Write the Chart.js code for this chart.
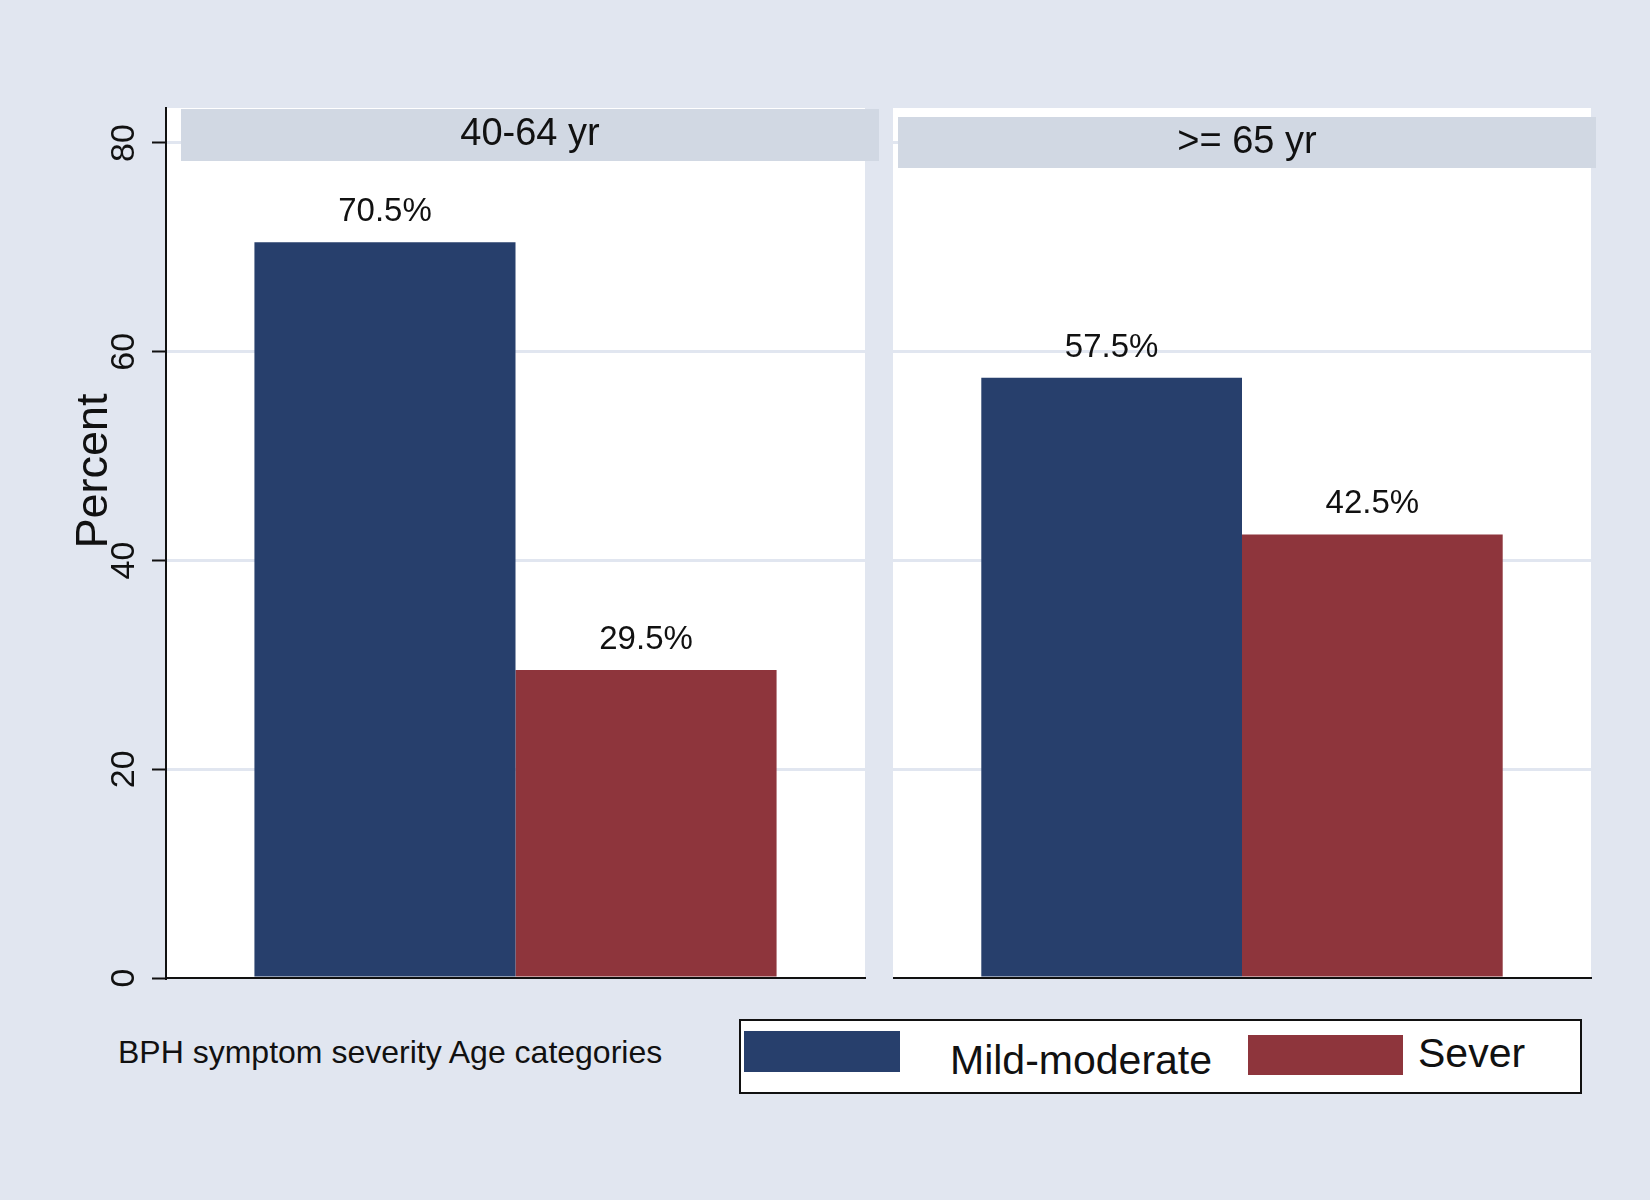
<!DOCTYPE html>
<html>
<head>
<meta charset="utf-8">
<script src="https://cdn.jsdelivr.net/npm/chart.js@4.4.1/dist/chart.umd.min.js"></script>
<style>
  html, body { margin: 0; padding: 0; }
  body { width: 1650px; height: 1200px; background: #e1e6f0; position: relative; overflow: hidden;
         font-family: "Liberation Sans", Arial, sans-serif; }
  canvas { position: absolute; top: 0; }
  #leftChart { left: 0; }
  #rightChart { left: 893px; }
  #xnote { position: absolute; left: 118px; top: 1034px; font-size: 32px; color: #111; white-space: nowrap; }
  #legend { position: absolute; left: 739px; top: 1019px; width: 839px; height: 71px; background: #fff;
            border: 2px solid #111; }
  .sw { position: absolute; }
  .lt { position: absolute; font-size: 41px; color: #111; white-space: nowrap; }
</style>
</head>
<body>
<canvas id="leftChart" width="885" height="1000"></canvas>
<canvas id="rightChart" width="757" height="1000"></canvas>
<div id="xnote">BPH symptom severity Age categories</div>
<div id="legend"></div>
<script>
// data
const groups = ['40-64 yr', '>= 65 yr'];
const seriesNames = ['Mild-moderate', 'Sever'];
const mildModerate = [70.5, 57.5];
const sever = [29.5, 42.5];
const tickValues = [0, 20, 40, 60, 80];

const blue = '#273f6c';
const red = '#8e353c';
const gridColor = '#e1e6f0';
const stripColor = '#d1d8e3';
const FONT = '"Liberation Sans", Arial, sans-serif';

// panel look: white plot area, facet strip, bar labels, rotated y labels
const panelPlugin = {
  id: 'panel',
  beforeDraw(chart) {
    const a = chart.chartArea, ctx = chart.ctx;
    ctx.save();
    ctx.fillStyle = '#fff';
    ctx.fillRect(a.left, a.top, a.right - a.left, a.bottom - a.top);
    ctx.restore();
  },
  afterDraw(chart, args, opts) {
    const a = chart.chartArea, ctx = chart.ctx;
    ctx.save();
    // strip
    const s = opts.strip;
    ctx.fillStyle = stripColor;
    ctx.fillRect(a.left + s.dx, s.top, a.right - a.left - s.dx + s.extra, s.height);
    ctx.fillStyle = '#111';
    ctx.font = '38px ' + FONT;
    ctx.textAlign = 'center';
    ctx.textBaseline = 'middle';
    ctx.fillText(opts.title, (a.left + s.dx + a.right + s.extra) / 2, s.top + s.height / 2);

    // value labels
    ctx.font = '33px ' + FONT;
    ctx.textBaseline = 'middle';
    chart.data.datasets.forEach((ds, i) => {
      chart.getDatasetMeta(i).data.forEach((bar, j) => {
        ctx.fillText(ds.data[j].toFixed(1) + '%', bar.x, bar.y - 30);
      });
    });

    // y tick labels + title (rotated)
    if (opts.showY) {
      const y = chart.scales.y;
      ctx.font = '34px ' + FONT;
      ctx.textAlign = 'center';
      y.ticks.forEach(t => {
        ctx.save();
        ctx.translate(125, y.getPixelForValue(t.value));
        ctx.rotate(-Math.PI / 2);
        ctx.fillText(String(t.value), 0, 0);
        ctx.restore();
      });
      ctx.save();
      ctx.font = '45px ' + FONT;
      ctx.translate(95, 471);
      ctx.rotate(-Math.PI / 2);
      ctx.fillText('Percent', 0, 0);
      ctx.restore();
    }
    ctx.restore();
  }
};

function makePanel(id, g, showY, strip, padRight) {
  return new Chart(document.getElementById(id), {
    type: 'bar',
    data: {
      labels: [groups[g]],
      datasets: [
        { label: seriesNames[0], data: [mildModerate[g]], backgroundColor: blue },
        { label: seriesNames[1], data: [sever[g]], backgroundColor: red }
      ]
    },
    options: {
      responsive: false,
      animation: false,
      devicePixelRatio: 1,
      layout: { padding: { top: 108, bottom: 22, left: 0, right: padRight } },
      datasets: { bar: { categoryPercentage: 0.747, barPercentage: 1.0 } },
      scales: {
        x: {
          ticks: { display: false },
          grid: { display: false },
          border: { display: true, color: '#111', width: 2 },
          afterFit(scale) { scale.height = 0; }
        },
        y: {
          min: 0,
          max: 83.35,
          afterBuildTicks(scale) { scale.ticks = tickValues.map(v => ({ value: v })); },
          ticks: { display: false },
          grid: {
            color: gridColor,
            lineWidth: 3,
            drawTicks: showY,
            tickLength: 14,
            tickColor: '#111',
            tickWidth: 2
          },
          border: { display: showY, color: '#111', width: 2 },
          afterFit(scale) { scale.width = showY ? 166 : 0; }
        }
      },
      plugins: {
        legend: { display: false },
        tooltip: { enabled: false },
        panel: { title: groups[g], showY: showY, strip: strip }
      }
    },
    plugins: [panelPlugin]
  });
}

makePanel('leftChart', 0, true, { dx: 15, extra: 14, top: 109, height: 52 }, 20);
makePanel('rightChart', 1, false, { dx: 5, extra: 5, top: 117, height: 51 }, 59);

// legend
const legend = document.getElementById('legend');
const items = [
  { name: seriesNames[0], color: blue, sw: [3, 10, 156, 41], text: [209, 16] },
  { name: seriesNames[1], color: red, sw: [507, 14, 155, 40], text: [677, 9] }
];
items.forEach(it => {
  const s = document.createElement('div');
  s.className = 'sw';
  s.style.cssText = `left:${it.sw[0]}px;top:${it.sw[1]}px;width:${it.sw[2]}px;height:${it.sw[3]}px;background:${it.color}`;
  legend.appendChild(s);
  const t = document.createElement('div');
  t.className = 'lt';
  t.style.left = it.text[0] + 'px';
  t.style.top = it.text[1] + 'px';
  t.textContent = it.name;
  legend.appendChild(t);
});
</script>
</body>
</html>
